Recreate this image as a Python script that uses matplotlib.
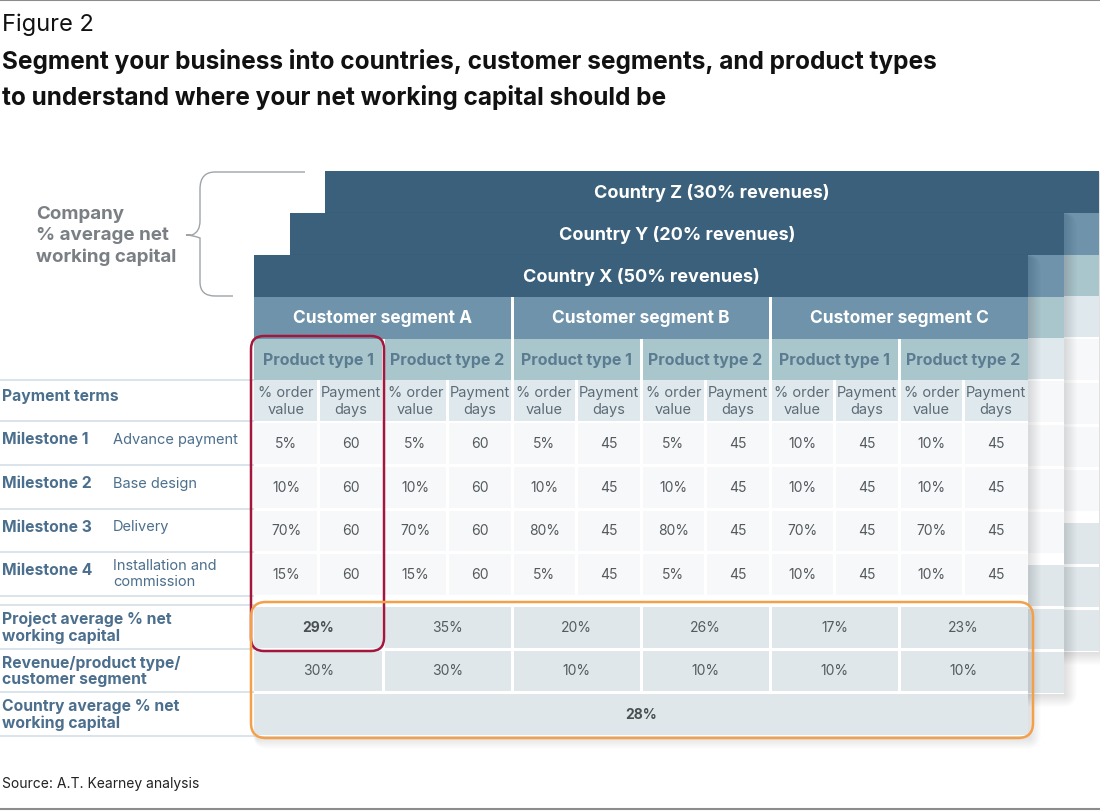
import matplotlib.pyplot as plt
from matplotlib.patches import Rectangle, FancyBboxPatch, PathPatch
from matplotlib.path import Path

plt.rcParams['font.family'] = ['Inter', 'DejaVu Sans']

# --- data ---
countries = ['Country X', 'Country Y', 'Country Z']
country_revenue = [50, 20, 30]
segments = ['Customer segment A', 'Customer segment B', 'Customer segment C']
products = ['Product type 1', 'Product type 2']
sub_cols = ['% order\nvalue', 'Payment\ndays']
milestones = ['Milestone 1', 'Milestone 2', 'Milestone 3', 'Milestone 4']
milestone_desc = ['Advance payment', 'Base design', 'Delivery', 'Installation and\ncommission']
# columns: A1, A2, B1, B2, C1, C2
order_pct = [
    [5, 5, 5, 5, 10, 10],
    [10, 10, 10, 10, 10, 10],
    [70, 70, 80, 80, 70, 70],
    [15, 15, 5, 5, 10, 10],
]
payment_days = [60, 60, 45, 45, 45, 45]
project_avg = [29, 35, 20, 26, 17, 23]
revenue_share = [30, 30, 10, 10, 10, 10]
country_avg = 28

# colours
c_dark = '#3b607b'
c_seg = '#6e93ab'
c_prod = '#a9c6cd'
c_sub = '#dfe9ed'
c_body = '#f6f8f9'
c_summ = '#dfe7eb'
c_label = '#4b6f8d'
c_num = '#555a5e'

fig = plt.figure(figsize=(11, 8.12), dpi=100)
ax = fig.add_axes([0, 0, 1, 1])
ax.set_xlim(0, 1100)
ax.set_ylim(812, 0)
ax.axis('off')

# layout (pixels)
X0, W = 254, 774
colw = W / 12
rows = {'head': (256, 298), 'seg': (298, 340), 'prod': (340, 381), 'sub': (381, 422)}
ms_rows = [(422, 466), (466, 510), (510, 553), (553, 597)]
sum_rows = [(606, 650), (650, 693), (693, 737)]
G = 3  # white gap


def box(x0, x1, y0, y1, color, gx=True, gy=False, z=2):
    dx = G / 2 if gx else 0
    dy = G / 2 if gy else 0
    ax.add_patch(Rectangle((x0 + dx, y0 + dy), x1 - x0 - 2 * dx, y1 - y0 - 2 * dy,
                           facecolor=color, edgecolor='none', zorder=z))


def shadow(x0, y0, x1, y1, z):
    for k in range(10):
        s = k * 1.5
        ax.add_patch(FancyBboxPatch((x0 - s * 0.2 + 2, y0 - s * 0.2 + 2), x1 - x0 + s, y1 - y0 + s,
                                    boxstyle='round,pad=0,rounding_size=%.1f' % (s + 1),
                                    facecolor='black', edgecolor='none', alpha=0.012, zorder=z))


def table(ox, oy, name, rev, z, full=True):
    x0 = X0 + ox
    x1 = x0 + W
    def yy(r):
        return r[0] + oy, r[1] + oy
    shadow(x0, 256 + oy, x1, 737 + oy, z - 0.5)
    # white backing so gaps between cells read as white
    ax.add_patch(Rectangle((x0, 256 + oy), W, 737 - 256, facecolor='white',
                           edgecolor='none', zorder=z - 0.2))
    a, b = yy(rows['head'])
    box(x0, x1, a, b, c_dark, gx=False, z=z)
    ax.text((x0 + x1) / 2, (a + b) / 2, f'{name} ({rev}% revenues)', color='white',
            fontsize=13, fontweight='bold', ha='center', va='center', zorder=z + 0.2)
    for i, s in enumerate(segments):
        sx0 = x0 + i * 4 * colw
        sx1 = sx0 + 4 * colw
        a, b = yy(rows['seg'])
        box(sx0 - (G / 2 if i == 0 else 0), sx1 + (G / 2 if i == 2 else 0), a, b, c_seg, z=z)
        if full:
            ax.text((sx0 + sx1) / 2, (a + b) / 2, s, color='white', fontsize=12.5,
                    fontweight='bold', ha='center', va='center', zorder=z + 0.2)
    for j in range(6):
        px0 = x0 + j * 2 * colw
        px1 = px0 + 2 * colw
        a, b = yy(rows['prod'])
        box(px0 - (G / 2 if j == 0 else 0), px1 + (G / 2 if j == 5 else 0), a, b, c_prod, z=z)
        if full:
            ax.text((px0 + px1) / 2, (a + b) / 2, products[j % 2], color='#5b7b90',
                    fontsize=11.5, fontweight='bold', ha='center', va='center', zorder=z + 0.2)
    for k in range(12):
        cx0 = x0 + k * colw
        cx1 = cx0 + colw
        ex0 = cx0 - (G / 2 if k == 0 else 0)
        ex1 = cx1 + (G / 2 if k == 11 else 0)
        a, b = yy(rows['sub'])
        box(ex0, ex1, a, b, c_sub, z=z)
        if full:
            ax.text((cx0 + cx1) / 2, (a + b) / 2, sub_cols[k % 2], color='#5d6b76',
                    fontsize=10.5, ha='center', va='center', linespacing=1.2, zorder=z + 0.2)
        for m, r in enumerate(ms_rows):
            a, b = yy(r)
            box(ex0, ex1, a, b, c_body, gy=True, z=z)
            if full:
                val = f'{order_pct[m][k // 2]}%' if k % 2 == 0 else str(payment_days[k // 2])
                ax.text((cx0 + cx1) / 2, (a + b) / 2, val, color=c_num, fontsize=10,
                        ha='center', va='center', zorder=z + 0.2)
    for j in range(6):
        px0 = x0 + j * 2 * colw
        px1 = px0 + 2 * colw
        ex0 = px0 - (G / 2 if j == 0 else 0)
        ex1 = px1 + (G / 2 if j == 5 else 0)
        for r, vals in zip(sum_rows[:2], [project_avg, revenue_share]):
            a, b = yy(r)
            box(ex0, ex1, a, b, c_summ, gy=True, z=z)
            if full:
                bold = (vals is project_avg and j == 0)
                ax.text((px0 + px1) / 2, (a + b) / 2, f'{vals[j]}%', color='#4a4f53' if bold else c_num,
                        fontsize=10, fontweight='bold' if bold else 'normal',
                        ha='center', va='center', zorder=z + 0.2)
    a, b = yy(sum_rows[2])
    box(x0, x1, a, b, c_summ, gx=False, gy=True, z=z)
    if full:
        ax.text((x0 + x1) / 2, (a + b) / 2, f'{country_avg}%', color='#4a4f53', fontsize=10,
                fontweight='bold', ha='center', va='center', zorder=z + 0.2)


# back tables first
table(71, -84, countries[2], country_revenue[2], z=2, full=False)
table(36, -42, countries[1], country_revenue[1], z=4, full=False)
table(0, 0, countries[0], country_revenue[0], z=6, full=True)

# highlight boxes
ax.add_patch(FancyBboxPatch((251, 337), 133, 315, boxstyle='round,pad=0,rounding_size=13',
                            facecolor='none', edgecolor='#a3173d', lw=1.8, zorder=9))
ax.add_patch(FancyBboxPatch((251, 603), 782, 136, boxstyle='round,pad=0,rounding_size=15',
                            facecolor='none', edgecolor='#f4a04a', lw=1.8, zorder=9))

# left labels
for y in [381, 422, 466, 510, 553, 597, 606, 650, 693, 737]:
    ax.plot([0, 254], [y, y], color='#d9e4ea', lw=1.4, zorder=1)

lab = dict(color=c_label, fontsize=11.3, fontweight='bold', ha='left', va='center')
ax.text(2, 397, 'Payment terms', **lab)
for m, r in enumerate(ms_rows):
    yc = (r[0] + r[1]) / 2 - 4
    ax.text(2, yc, milestones[m], **lab)
    ax.text(113, yc + (3 if m == 3 else 0), milestone_desc[m], color=c_label, fontsize=10.5,
            ha='left', va='center', linespacing=1.2)
sum_labels = ['Project average % net\nworking capital', 'Revenue/product type/\ncustomer segment',
              'Country average % net\nworking capital']
for r, t in zip(sum_rows, sum_labels):
    ax.text(2, (r[0] + r[1]) / 2, t, linespacing=1.1, **lab)

ax.text(36, 236, 'Company\n% average net\nworking capital', color='#7a7f84', fontsize=13.5,
        fontweight='bold', ha='left', va='center', linespacing=1.3)

# brace
verts = [(305, 173), (215, 173), (200, 173), (200, 190), (200, 205), (200, 222),
         (200, 233), (192, 236), (186, 236), (192, 236), (200, 239), (200, 250),
         (200, 265), (200, 283), (200, 297), (215, 297), (233, 297)]
codes = [Path.MOVETO, Path.LINETO, Path.CURVE3, Path.CURVE3, Path.LINETO, Path.LINETO,
         Path.CURVE3, Path.CURVE3, Path.LINETO, Path.CURVE3, Path.CURVE3, Path.LINETO,
         Path.LINETO, Path.LINETO, Path.CURVE3, Path.CURVE3, Path.LINETO]
ax.add_patch(PathPatch(Path(verts, codes), facecolor='none', edgecolor='#a0a4a8', lw=1.0, zorder=3))

# titles and frame
ax.plot([0, 1100], [1, 1], color='#8c8c8c', lw=1.5)
ax.plot([0, 1100], [810, 810], color='#8c8c8c', lw=1.5)
ax.text(2, 25, 'Figure 2', fontsize=17, ha='left', va='center', color='#111111')
ax.text(2, 62, 'Segment your business into countries, customer segments, and product types',
        fontsize=17.6, fontweight='bold', ha='left', va='center', color='#111111')
ax.text(2, 97, 'to understand where your net working capital should be',
        fontsize=17.6, fontweight='bold', ha='left', va='center', color='#111111')
ax.text(2, 784, 'Source: A.T. Kearney analysis', fontsize=10, ha='left', va='center', color='#222222')

fig.savefig('out.png', dpi=100)
